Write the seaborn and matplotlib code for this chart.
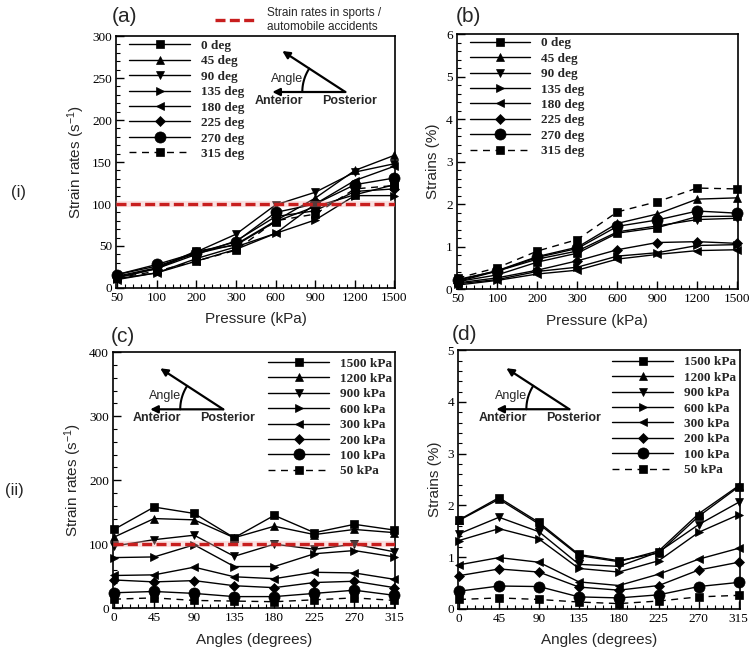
import numpy as np
import pandas as pd
import seaborn as sns
import matplotlib.pyplot as plt
import matplotlib.ticker as mticker

# ---- data ----
pressures = [50, 100, 200, 300, 600, 900, 1200, 1500]
angles = [0, 45, 90, 135, 180, 225, 270, 315]

# strain rates (1/s), one list per pressure, values over the angles
rate_50 = [14, 16, 12, 11, 10, 13, 16, 12]
rate_100 = [24, 26, 23, 18, 18, 23, 28, 20]
rate_200 = [44, 41, 43, 35, 32, 40, 42, 32]
rate_300 = [51, 52, 64, 49, 46, 56, 55, 45]
rate_600 = [79, 80, 99, 65, 65, 85, 90, 80]
rate_900 = [97, 107, 114, 81, 100, 92, 100, 88]
rate_1200 = [111, 140, 138, 110, 128, 115, 123, 118]
rate_1500 = [123, 158, 148, 110, 145, 118, 131, 122]

# strains (%), one list per pressure, values over the angles
strain_50 = [0.18, 0.21, 0.18, 0.13, 0.10, 0.15, 0.23, 0.26]
strain_100 = [0.34, 0.44, 0.43, 0.23, 0.21, 0.27, 0.43, 0.51]
strain_200 = [0.64, 0.77, 0.71, 0.42, 0.36, 0.45, 0.75, 0.90]
strain_300 = [0.85, 0.99, 0.90, 0.52, 0.45, 0.67, 0.96, 1.17]
strain_600 = [1.32, 1.55, 1.35, 0.78, 0.71, 0.93, 1.48, 1.82]
strain_900 = [1.45, 1.77, 1.49, 0.86, 0.82, 1.10, 1.63, 2.06]
strain_1200 = [1.71, 2.12, 1.64, 1.03, 0.91, 1.12, 1.84, 2.38]
strain_1500 = [1.72, 2.15, 1.67, 1.05, 0.93, 1.08, 1.79, 2.36]

accident_rate = 100

rates = np.array([rate_50, rate_100, rate_200, rate_300, rate_600, rate_900, rate_1200, rate_1500])
strains = np.array([strain_50, strain_100, strain_200, strain_300, strain_600, strain_900, strain_1200, strain_1500])

angle_names = ['{} deg'.format(a) for a in angles]
pressure_names = ['{} kPa'.format(p) for p in pressures][::-1]
marker_list = ['s', '^', 'v', '>', '<', 'D', 'o', 's']

sns.set_theme(style='ticks')
plt.rcParams['font.family'] = ['Liberation Sans', 'DejaVu Sans']
plt.rcParams['mathtext.default'] = 'regular'

SERIF = 'Liberation Serif'


def by_pressure(mat):
    # x = pressure index, one series per angle
    rows = []
    for j, a in enumerate(angle_names):
        for i in range(len(pressures)):
            rows.append({'pos': i, 'value': mat[i, j], 'series': a})
    return pd.DataFrame(rows)


def by_angle(mat):
    # x = angle index, one series per pressure
    rows = []
    for i, p in enumerate(pressures):
        for j in range(len(angles)):
            rows.append({'pos': j, 'value': mat[i, j], 'series': '{} kPa'.format(p)})
    return pd.DataFrame(rows)


def line_panel(ax, df, names, ylim, ystep, ylabel, xlabel, xticklabels, leg_anchor):
    mk = dict(zip(names, marker_list))
    ds = {n: '' for n in names}
    ds[names[-1]] = (5, 4)
    sns.lineplot(data=df, x='pos', y='value', hue='series', style='series',
                 hue_order=names, style_order=names, palette=['black'] * len(names),
                 markers=mk, dashes=ds, markersize=6, linewidth=1.0,
                 markeredgecolor='black', markeredgewidth=0.5,
                 legend=False, ax=ax, clip_on=False, zorder=3)
    for ln in ax.lines:
        if ln.get_marker() == 'o':
            ln.set_markersize(8)
        elif ln.get_marker() == 'D':
            ln.set_markersize(5)
    ax.legend(ax.lines[:len(names)], names, loc='upper left', bbox_to_anchor=leg_anchor,
              frameon=False, handlelength=4.6, handletextpad=0.8, labelspacing=0.24,
              borderaxespad=0, borderpad=0,
              prop=dict(family=SERIF, weight='bold', size=9.5))

    ax.set_xlim(-0.02, 7.02)
    ax.set_ylim(*ylim)
    ax.set_xticks(range(len(xticklabels)))
    ax.set_xticklabels(xticklabels)
    ax.xaxis.set_minor_locator(mticker.MultipleLocator(0.2))
    ax.yaxis.set_major_locator(mticker.MultipleLocator(ystep))
    ax.yaxis.set_minor_locator(mticker.MultipleLocator(ystep / 5))
    ax.tick_params(which='both', direction='in', top=False, right=False,
                   labelsize=9.5, labelfontfamily=SERIF, colors='black')
    ax.tick_params(which='major', length=6, width=1, pad=3)
    ax.tick_params(which='minor', length=3, width=0.8)
    ax.set_xlabel(xlabel, fontsize=11, labelpad=6)
    ax.set_ylabel(ylabel, fontsize=11, labelpad=4)
    for s in ax.spines.values():
        s.set_linewidth(1.2)
        s.set_color('black')


def add_accident_line(ax):
    ax.axhline(accident_rate, color='#f2a8a8', lw=4.5, alpha=0.35, zorder=4)
    return ax.axhline(accident_rate, color='#c81e1e', lw=2.4, dashes=(3, 1.3), zorder=5)


def angle_sketch(ax, anchor):
    fig = ax.figure
    bb = ax.get_position()
    wpx = bb.width * fig.get_figwidth() * fig.dpi
    hpx = bb.height * fig.get_figheight() * fig.dpi

    def at(dx, dy):
        return (anchor[0] + dx / wpx, anchor[1] + dy / hpx)

    arrow = dict(arrowstyle='-|>', color='black', lw=1.6, mutation_scale=11, shrinkA=0, shrinkB=0)
    ax.annotate('', xy=at(-63, 41), xytext=at(0, 0), xycoords='axes fraction',
                textcoords='axes fraction', arrowprops=arrow)
    ax.annotate('', xy=at(-73, 0), xytext=at(0, 0), xycoords='axes fraction',
                textcoords='axes fraction', arrowprops=arrow)
    t = np.linspace(np.deg2rad(147), np.pi, 30)
    pts = [at(43 * np.cos(a), 43 * np.sin(a)) for a in t]
    ax.plot([p[0] for p in pts], [p[1] for p in pts], color='black', lw=1.5,
            transform=ax.transAxes, clip_on=False)
    ax.text(*at(-58, 13), 'Angle', transform=ax.transAxes, ha='center', va='center', fontsize=9)
    ax.text(*at(-66, -9), 'Anterior', transform=ax.transAxes, ha='center', va='center',
            fontsize=9, fontweight='bold')
    ax.text(*at(4, -9), 'Posterior', transform=ax.transAxes, ha='center', va='center',
            fontsize=9, fontweight='bold')


fig = plt.figure(figsize=(7.5, 6.56), dpi=100)
ax_a = fig.add_axes([0.155, 0.561, 0.372, 0.384])
ax_b = fig.add_axes([0.609, 0.559, 0.375, 0.389])
ax_c = fig.add_axes([0.151, 0.073, 0.376, 0.390])
ax_d = fig.add_axes([0.611, 0.072, 0.375, 0.394])

rate_label = 'Strain rates (s$^{-1}$)'
strain_label = 'Strains (%)'

line_panel(ax_a, by_pressure(rates), angle_names, (0, 300), 50, rate_label,
           'Pressure (kPa)', pressures, (0.047, 0.985))
line_panel(ax_b, by_pressure(strains), angle_names, (0, 6), 1, strain_label,
           'Pressure (kPa)', pressures, (0.046, 0.988))
line_panel(ax_c, by_angle(rates)[::-1], pressure_names, (0, 400), 100, rate_label,
           'Angles (degrees)', angles, (0.55, 0.98))
line_panel(ax_d, by_angle(strains)[::-1], pressure_names, (0, 5), 1, strain_label,
           'Angles (degrees)', angles, (0.548, 0.977))

red = add_accident_line(ax_a)
add_accident_line(ax_c)

angle_sketch(ax_a, (0.821, 0.778))
angle_sketch(ax_c, (0.39, 0.777))
angle_sketch(ax_d, (0.395, 0.772))

fig.legend([red], ['Strain rates in sports /\nautomobile accidents'], loc='center left',
           bbox_to_anchor=(215 / 750, 1 - 20 / 656), frameon=False, handlelength=3.5,
           handletextpad=0.9, borderpad=0, borderaxespad=0, fontsize=8.5)

for txt, x, y in [('(a)', 112, 17), ('(b)', 456, 17), ('(c)', 111, 336), ('(d)', 452, 334)]:
    fig.text(x / 750, 1 - y / 656, txt, ha='left', va='center', fontsize=15)
fig.text(18 / 750, 1 - 192 / 656, '(i)', ha='center', va='center', fontsize=12)
fig.text(14 / 750, 1 - 490 / 656, '(ii)', ha='center', va='center', fontsize=12)

fig.savefig('out.png', dpi=100)
